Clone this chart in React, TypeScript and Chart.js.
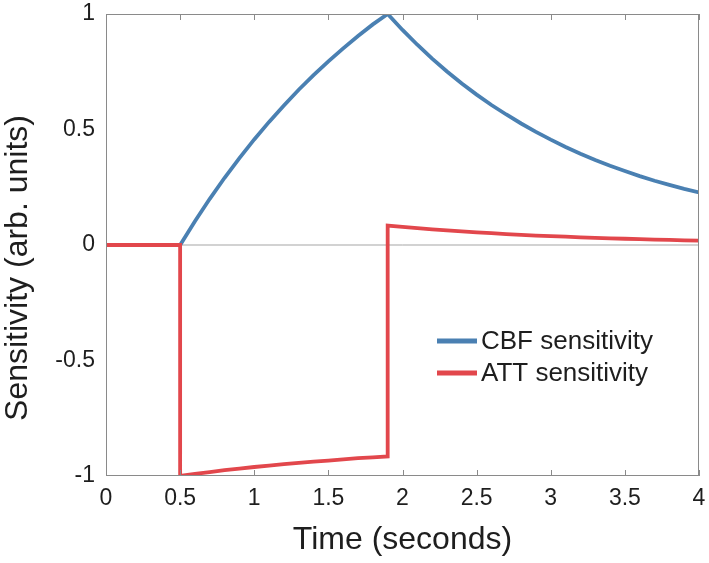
import React, { useEffect, useRef } from "react";
import { Chart, registerables } from "chart.js";

Chart.register(...registerables);

// ---- Data ----
const cbfTime = [0, 0.5, 0.6, 0.7, 0.8, 0.9, 1.0, 1.1, 1.2, 1.3, 1.4, 1.5, 1.6, 1.7, 1.8, 1.9,
  2.0, 2.1, 2.2, 2.3, 2.4, 2.5, 2.6, 2.7, 2.8, 2.9, 3.0, 3.1, 3.2, 3.3, 3.4, 3.5, 3.6, 3.7, 3.8, 3.9, 4.0];
const cbfValues = [0, 0, 0.103, 0.2, 0.291, 0.376, 0.457, 0.533, 0.604, 0.672, 0.735, 0.795, 0.851, 0.905, 0.955, 1.0,
  0.931, 0.867, 0.807, 0.751, 0.699, 0.651, 0.606, 0.565, 0.526, 0.49, 0.456, 0.424, 0.395, 0.368, 0.343, 0.32, 0.298, 0.278, 0.26, 0.243, 0.228];

const attTime = [0, 0.5, 0.5, 0.6, 0.7, 0.8, 0.9, 1.0, 1.1, 1.2, 1.3, 1.4, 1.5, 1.6, 1.7, 1.8, 1.9, 1.9,
  2.0, 2.1, 2.2, 2.3, 2.4, 2.5, 2.6, 2.7, 2.8, 2.9, 3.0, 3.1, 3.2, 3.3, 3.4, 3.5, 3.6, 3.7, 3.8, 3.9, 4.0];
const attValues = [0, 0, -1, -0.991, -0.983, -0.975, -0.968, -0.961, -0.955, -0.949, -0.943, -0.938, -0.933, -0.928, -0.923, -0.919, -0.915, 0.084,
  0.078, 0.073, 0.068, 0.063, 0.059, 0.055, 0.051, 0.047, 0.044, 0.041, 0.038, 0.036, 0.033, 0.031, 0.029, 0.027, 0.025, 0.023, 0.022, 0.02, 0.019];

const xTicks = [0, 0.5, 1, 1.5, 2, 2.5, 3, 3.5, 4];
const yTicks = [-1, -0.5, 0, 0.5, 1];
const seriesNames = ["CBF sensitivity", "ATT sensitivity"];
const xTitle = "Time (seconds)";
const yTitle = "Sensitivity (arb. units)";

const BLUE = "#4a80b2";
const RED = "#e2474c";
const AXIS = "#8a8a8a";
const TEXT = "#1e1e1e";
const FONT = "'Liberation Sans', Arial, Helvetica, sans-serif";

const framePlugin = {
  id: "frame",
  beforeDatasetsDraw(chart: any) {
    const { ctx, chartArea: a, scales } = chart;
    const y0 = scales.y.getPixelForValue(0);
    ctx.save();
    ctx.strokeStyle = "#a5a5a5";
    ctx.lineWidth = 1;
    ctx.beginPath();
    ctx.moveTo(a.left, y0);
    ctx.lineTo(a.right, y0);
    ctx.stroke();
    ctx.restore();
  },
  afterDatasetsDraw(chart: any) {
    const { ctx, chartArea: a, scales } = chart;
    ctx.save();
    ctx.strokeStyle = AXIS;
    ctx.lineWidth = 1;
    ctx.strokeRect(a.left + 0.5, a.top + 0.5, a.right - a.left - 1, a.bottom - a.top - 1);
    ctx.beginPath();
    for (const t of xTicks) {
      const px = Math.round(scales.x.getPixelForValue(t)) + 0.5;
      ctx.moveTo(px, a.top);
      ctx.lineTo(px, a.top + 6);
      ctx.moveTo(px, a.bottom);
      ctx.lineTo(px, a.bottom - 6);
    }
    ctx.stroke();
    ctx.restore();
  },
  afterDraw(chart: any) {
    const { ctx } = chart;
    ctx.save();
    // y title
    ctx.fillStyle = TEXT;
    ctx.font = `32px ${FONT}`;
    ctx.textAlign = "center";
    ctx.textBaseline = "middle";
    ctx.translate(18, 268);
    ctx.rotate(-Math.PI / 2);
    ctx.fillText(yTitle, 0, 0);
    ctx.restore();

    // legend
    ctx.save();
    const colors = [BLUE, RED];
    ctx.font = `26px ${FONT}`;
    ctx.textAlign = "left";
    ctx.textBaseline = "middle";
    seriesNames.forEach((name, i) => {
      const y = 341 + i * 32;
      ctx.strokeStyle = colors[i];
      ctx.lineWidth = 5;
      ctx.beginPath();
      ctx.moveTo(437, y);
      ctx.lineTo(477, y);
      ctx.stroke();
      ctx.fillStyle = TEXT;
      ctx.fillText(name, 481, y + 1);
    });
    ctx.restore();
  },
};

export default function App() {
  const ref = useRef<HTMLCanvasElement>(null);

  useEffect(() => {
    document.body.style.margin = "0";
    const canvas = ref.current!;
    const chart = new Chart(canvas, {
      type: "line",
      data: {
        datasets: [
          {
            label: seriesNames[0],
            data: cbfTime.map((t, i) => ({ x: t, y: cbfValues[i] })),
            borderColor: BLUE,
            borderWidth: 3.8,
            pointRadius: 0,
            tension: 0,
            fill: false,
            order: 1,
          },
          {
            label: seriesNames[1],
            data: attTime.map((t, i) => ({ x: t, y: attValues[i] })),
            borderColor: RED,
            borderWidth: 3.8,
            pointRadius: 0,
            tension: 0,
            fill: false,
            order: 0,
          },
        ],
      },
      options: {
        animation: false,
        responsive: false,
        layout: { padding: { top: 14, right: 10, left: 0, bottom: 0 } },
        plugins: {
          legend: { display: false },
          tooltip: { enabled: false },
        },
        scales: {
          x: {
            type: "linear",
            min: 0,
            max: 4,
            afterFit: (s: any) => {
              s.height = 87;
              s.paddingLeft = 0;
              s.paddingRight = 0;
              s.paddingTop = 0;
              s.paddingBottom = 0;
            },
            afterBuildTicks: (s: any) => { s.ticks = xTicks.map((v) => ({ value: v })); },
            grid: { display: false, drawTicks: false },
            border: { display: false },
            ticks: {
              font: { family: FONT, size: 23 },
              color: TEXT,
              padding: 9,
              maxRotation: 0,
              callback: (v: any) => String(v),
            },
            title: {
              display: true,
              text: xTitle,
              font: { family: FONT, size: 32 },
              color: TEXT,
              padding: { top: 0, bottom: 4 },
            },
          },
          y: {
            type: "linear",
            min: -1,
            max: 1,
            afterFit: (s: any) => {
              s.width = 106;
              s.paddingLeft = 0;
              s.paddingRight = 0;
              s.paddingTop = 0;
              s.paddingBottom = 0;
            },
            afterBuildTicks: (s: any) => { s.ticks = yTicks.map((v) => ({ value: v })); },
            grid: { display: false, drawTicks: false },
            border: { display: false },
            ticks: {
              font: { family: FONT, size: 23 },
              color: TEXT,
              padding: 11,
              callback: (v: any) => String(v),
            },
          },
        },
      },
      plugins: [framePlugin],
    });
    return () => chart.destroy();
  }, []);

  return (
    <div style={{ position: "absolute", left: 0, top: 0, width: 709, height: 563, background: "#fff" }}>
      <canvas ref={ref} width={709} height={563} />
    </div>
  );
}
